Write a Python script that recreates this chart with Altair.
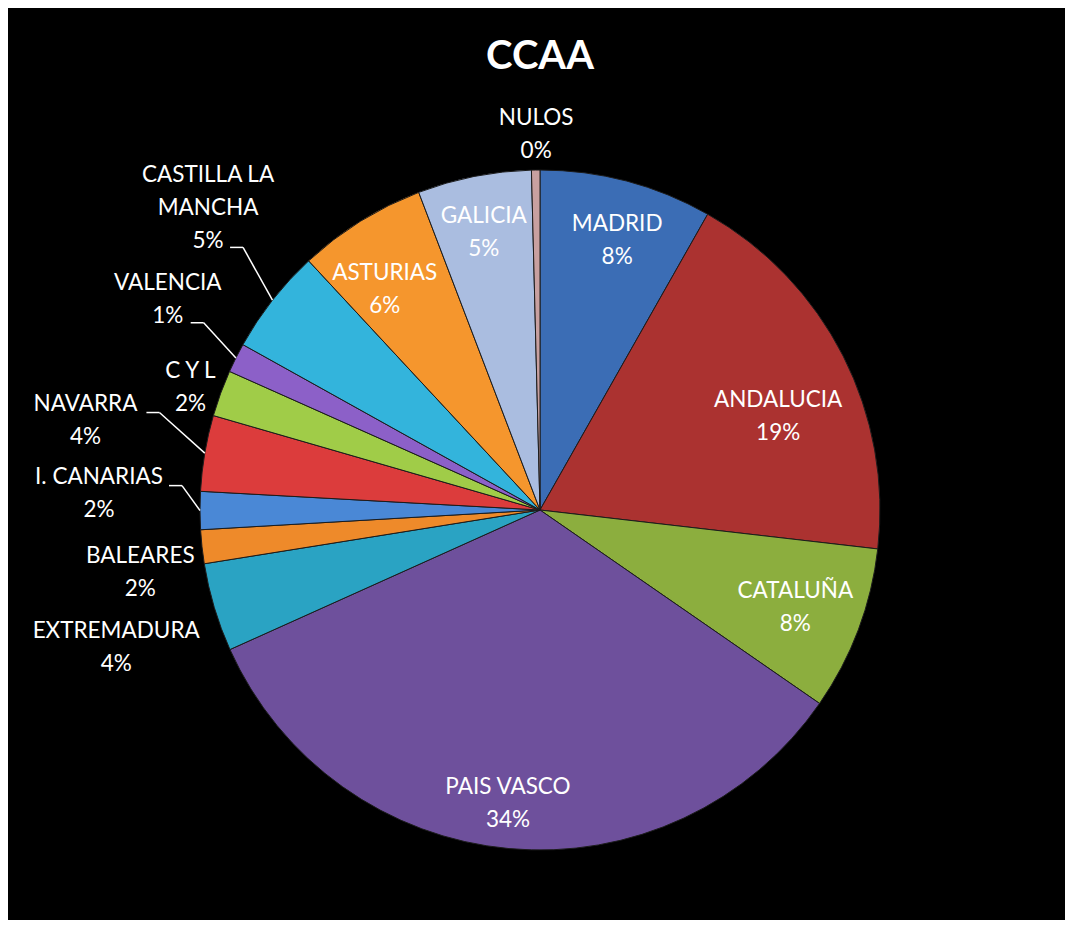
import altair as alt
import pandas as pd

# ---------------- data ----------------
categories = ["MADRID", "ANDALUCIA", "CATALUÑA", "PAIS VASCO", "EXTREMADURA",
              "BALEARES", "I. CANARIAS", "NAVARRA", "C Y L", "VALENCIA",
              "CASTILLA LA MANCHA", "ASTURIAS", "GALICIA", "NULOS"]
values = [8.2, 18.6, 7.8, 33.6, 4.2, 1.6, 1.8, 3.6, 2.2, 1.4, 5.0, 6.1, 5.4, 0.4]
display_names = ["MADRID", "ANDALUCIA", "CATALUÑA", "PAIS VASCO", "EXTREMADURA",
                 "BALEARES", "I. CANARIAS", "NAVARRA", "C Y L", "VALENCIA",
                 "CASTILLA LA|MANCHA", "ASTURIAS", "GALICIA", "NULOS"]
colors = ["#3b6db5", "#ab3230", "#8cae3e", "#6e509c", "#2aa3c3",
          "#ee8a2a", "#4a88d6", "#dc3c3c", "#a0cc48", "#8c60c8",
          "#33b4dc", "#f5962d", "#aabde0", "#c8a0a0"]

# ---------------- layout ----------------
W, H = 1057, 912
CX, CY, R = 532, 502, 340
R_IN, R_OUT = 275, 385
LINE_H = 33
inside = {"MADRID", "ANDALUCIA", "CATALUÑA", "PAIS VASCO", "ASTURIAS", "GALICIA"}
nudge = {
    "MADRID": (7, -4), "ANDALUCIA": (-7, 31), "CATALUÑA": (-2, 1),
    "PAIS VASCO": (-7, 20), "ASTURIAS": (-10, 13), "GALICIA": (-3, -8),
    "NULOS": (1, 9), "CASTILLA LA MANCHA": (-29, -64), "VALENCIA": (-28, -38),
    "C Y L": (12, 10), "NAVARRA": (-75, -25), "I. CANARIAS": (-56, -17),
    "BALEARES": (-17, 21), "EXTREMADURA": (-55, 27),
}
leader = {"CASTILLA LA MANCHA": (22, 39), "VALENCIA": (23, 23),
          "NAVARRA": (61, -8), "I. CANARIAS": (70, -8)}

df = pd.DataFrame({
    "name": categories,
    "disp": display_names,
    "value": values,
    "order": list(range(len(categories))),
    "lr": [R_IN if c in inside else R_OUT for c in categories],
    "ndx": [nudge[c][0] for c in categories],
    "ndy": [nudge[c][1] for c in categories],
    "lead": [c in leader for c in categories],
    "ax": [leader.get(c, (0, 0))[0] for c in categories],
    "ay": [leader.get(c, (0, 0))[1] for c in categories],
})

base = (
    alt.Chart(df)
    .transform_window(cum="sum(value)", sort=[alt.SortField("order")], frame=[None, 0])
    .transform_joinaggregate(total="sum(value)")
    .transform_calculate(
        mid="2*PI*(datum.cum - datum.value/2)/datum.total",
        pct="format(datum.value/datum.total, '.0%')",
    )
    .transform_calculate(
        txt="datum.disp + '|' + datum.pct",
        lx=f"{CX} + datum.lr*sin(datum.mid) + datum.ndx",
        lyc=f"{CY} - datum.lr*cos(datum.mid) + datum.ndy",
        ex=f"{CX} + {R}*sin(datum.mid)",
        ey=f"{CY} - {R}*cos(datum.mid)",
    )
    .transform_calculate(
        ly=f"datum.lyc - (length(split(datum.txt, '|')) - 1) * {LINE_H} / 2",
        hx0="datum.lx + datum.ax",
        hy="datum.lyc + datum.ay",
    )
    .transform_calculate(hx1="datum.hx0 + 13")
)

pie = base.mark_arc(radius=R, stroke="#1c1c1c", strokeWidth=1).encode(
    theta=alt.Theta("value:Q", stack=True),
    color=alt.Color("name:N", scale=alt.Scale(domain=categories, range=colors), legend=None),
    order=alt.Order("order:Q", sort="ascending"),
    x=alt.value(CX),
    y=alt.value(CY),
)

lead_h = base.transform_filter("datum.lead").mark_rule(color="white", strokeWidth=1.5).encode(
    x=alt.X("hx0:Q", scale=None, axis=None),
    x2="hx1:Q",
    y=alt.Y("hy:Q", scale=None, axis=None),
    y2="hy:Q",
)
lead_d = base.transform_filter("datum.lead").mark_rule(color="white", strokeWidth=1.5).encode(
    x=alt.X("hx1:Q", scale=None, axis=None),
    x2="ex:Q",
    y=alt.Y("hy:Q", scale=None, axis=None),
    y2="ey:Q",
)

labels = base.mark_text(
    font="Lato", fontSize=22.5, color="white", lineBreak="|", lineHeight=LINE_H,
    align="center", baseline="middle",
).encode(
    x=alt.X("lx:Q", scale=None, axis=None),
    y=alt.Y("ly:Q", scale=None, axis=None),
    text="txt:N",
)

title = alt.Chart(pd.DataFrame({"t": ["CCAA"]})).mark_text(
    font="Lato", fontSize=40, fontWeight="bold", color="white",
    align="center", baseline="middle",
).encode(text="t:N", x=alt.value(CX), y=alt.value(49))

chart = (
    alt.layer(pie, lead_h, lead_d, labels, title)
    .properties(width=W, height=H, background="black", padding=0)
    .configure_view(strokeWidth=0)
)

chart.save("out.html", embed_options={"renderer": "svg", "actions": False})
